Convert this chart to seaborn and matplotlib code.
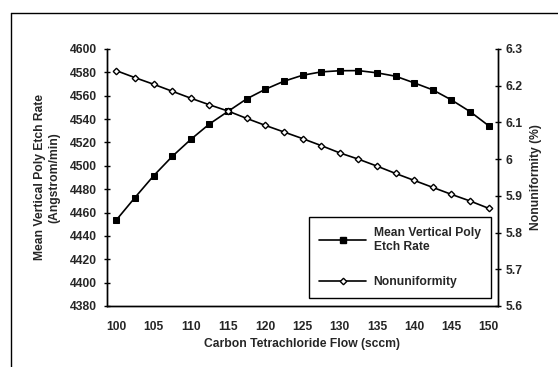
import numpy as np
import pandas as pd
import matplotlib
matplotlib.use("Agg")
import matplotlib.pyplot as plt
import seaborn as sns
from matplotlib.lines import Line2D

flow = [100, 102.5, 105, 107.5, 110, 112.5, 115, 117.5, 120, 122.5, 125,
        127.5, 130, 132.5, 135, 137.5, 140, 142.5, 145, 147.5, 150]
etch_rate = [4453.6, 4472.8, 4491.4, 4508.0, 4522.6, 4535.8, 4546.6, 4557.3,
             4565.5, 4572.4, 4577.5, 4580.4, 4581.4, 4581.5, 4579.6, 4576.7,
             4571.0, 4565.0, 4556.4, 4546.4, 4534.3]
nonuniformity = [6.241, 6.222, 6.204, 6.185, 6.166, 6.148, 6.131, 6.111,
                 6.092, 6.074, 6.056, 6.037, 6.017, 6.000, 5.981, 5.961,
                 5.942, 5.923, 5.904, 5.886, 5.866]
x_labels = ["100", "105", "110", "115", "120", "125", "130", "135", "140", "145", "150"]

df = pd.DataFrame({"flow": flow, "etch": etch_rate, "nonuni": nonuniformity})

sns.set_style("white")
plt.rcParams['font.family'] = ['Liberation Sans', 'DejaVu Sans']
plt.rcParams['font.weight'] = 'bold'
plt.rcParams['font.size'] = 8.7

fig = plt.figure(figsize=(5.58, 3.67), dpi=100)
ax = fig.add_axes([107 / 558, 1 - 306 / 367, 391 / 558, 257 / 367])
ax2 = ax.twinx()

sns.lineplot(data=df, x="flow", y="etch", ax=ax, color="black", lw=1.2,
             marker="s", markersize=4.5, markerfacecolor="black",
             markeredgecolor="black", legend=False)
sns.lineplot(data=df, x="flow", y="nonuni", ax=ax2, color="black", lw=1.2,
             marker="D", markersize=3.3, markerfacecolor="white",
             markeredgecolor="black", markeredgewidth=1, legend=False)

ax.set_xlim(98.75, 151.25)
ax.set_ylim(4380, 4600)
ax.set_yticks(np.arange(4380, 4601, 20))
ax2.set_ylim(5.6, 6.3)
ax2.set_yticks([5.6, 5.7, 5.8, 5.9, 6.0, 6.1, 6.2, 6.3])
ax2.set_yticklabels(["5.6", "5.7", "5.8", "5.9", "6", "6.1", "6.2", "6.3"])

# category style axis: ticks between every 2nd category, labels at the points
ax.set_xticks(np.arange(98.75 + 5, 151, 5))
ax.set_xticklabels([])
ax.set_xticks([float(s) for s in x_labels], minor=True)
ax.set_xticklabels(x_labels, minor=True)
ax.tick_params(axis="x", which="minor", length=0, pad=10.5)
ax.tick_params(axis="x", which="major", direction="inout", length=5, width=1, color="black")
ax.tick_params(axis="y", direction="inout", length=5, width=1, color="black", pad=4.5, left=True)
ax2.tick_params(axis="y", direction="inout", length=5, width=1, color="black", pad=3, right=True)

for a in (ax, ax2):
    a.spines["top"].set_visible(False)
    for s in ("left", "bottom", "right"):
        a.spines[s].set_color("black")
        a.spines[s].set_linewidth(1)

ax.set_xlabel("Carbon Tetrachloride Flow (sccm)", fontweight="bold")
ax.xaxis.set_label_coords(0.5, -0.125)
ax.set_ylabel("Mean Vertical Poly Etch Rate\n(Angstrom/min)",
              fontweight="bold", linespacing=1.3)
ax.yaxis.set_label_coords(-0.118, 0.5)
ax2.set_ylabel("Nonuniformity (%)", fontweight="bold")
ax2.yaxis.set_label_coords(1.082, 0.5)

handles = [
    Line2D([], [], color="black", lw=1.2, marker="s", markersize=4.5,
           markerfacecolor="black", markeredgecolor="black"),
    Line2D([], [], color="black", lw=1.2, marker="D", markersize=3.3,
           markerfacecolor="white", markeredgecolor="black"),
]
leg = ax2.legend(handles, ["Mean Vertical Poly\nEtch Rate", "Nonuniformity"],
                 loc="lower right", bbox_to_anchor=(0.982, 0.031),
                 borderaxespad=0, fancybox=False, shadow=False, frameon=True,
                 edgecolor="black", framealpha=1, handlelength=3.9,
                 handletextpad=0.6, labelspacing=1.9, borderpad=0.85)
leg.get_frame().set_linewidth(1)

# chart border (top and left edges only visible in the scan)
fig.add_artist(Line2D([10.5 / 558, 10.5 / 558], [0, 1 - 12.5 / 367],
                      color="black", lw=1, transform=fig.transFigure))
fig.add_artist(Line2D([10.5 / 558, 1], [1 - 12.5 / 367, 1 - 12.5 / 367],
                      color="black", lw=1, transform=fig.transFigure))

fig.savefig("out.png", dpi=100)
